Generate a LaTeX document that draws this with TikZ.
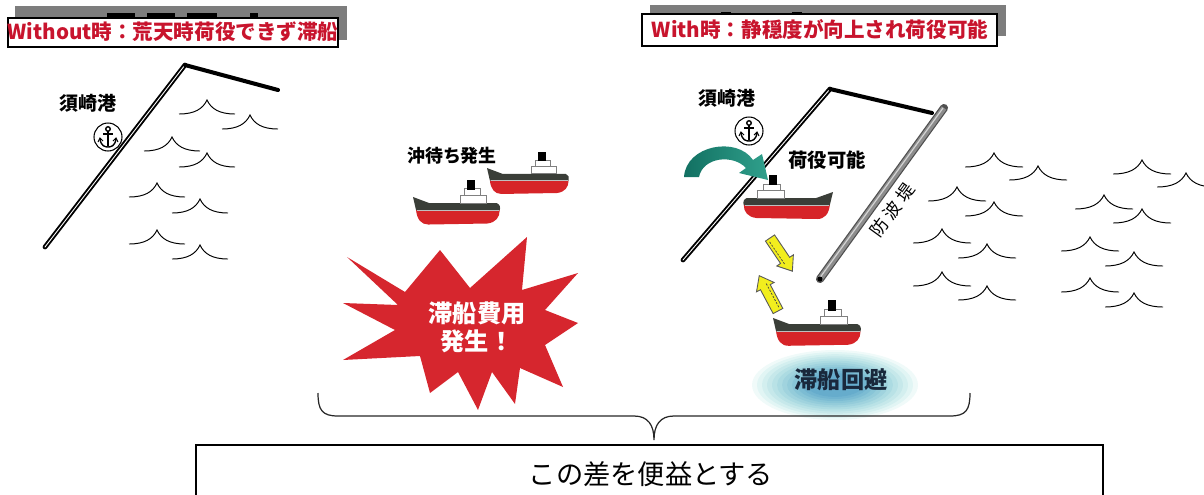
\documentclass[tikz,border=0pt]{standalone}
\usepackage{fontspec}
\setmainfont{Noto Sans CJK JP}
\usetikzlibrary{calc}

\definecolor{titlered}{RGB}{200,20,45}
\definecolor{hullred}{RGB}{214,36,40}
\definecolor{hulldark}{RGB}{58,62,56}
\definecolor{tealA}{RGB}{18,112,98}
\definecolor{tealB}{RGB}{48,160,140}
\definecolor{burst}{RGB}{214,38,46}
\definecolor{arrowyellow}{RGB}{242,238,30}
\definecolor{glowblue}{RGB}{30,120,185}
\definecolor{glowcyan}{RGB}{160,225,220}
\definecolor{navy}{RGB}{25,40,60}
\definecolor{wallgray}{RGB}{140,140,140}
\definecolor{walldark}{RGB}{80,80,80}
\definecolor{bargray}{RGB}{125,125,125}

% one wave mark: cusp at (#1,#2), half width #3
\newcommand\wavemark[3]{%
  \draw[wave] (#1-#3,#2+14) .. controls (#1-#3*0.45,#2+14) and (#1-#3*0.15,#2+9) .. (#1,#2)
    .. controls (#1+#3*0.15,#2+9) and (#1+#3*0.45,#2+14) .. (#1+#3,#2+14);}

\tikzset{
  titlebar/.style={fill=bargray},
  titlebox/.style={fill=white, draw=black, line width=0.6pt},
  titletext/.style={inner sep=0pt, text=titlered, font=\fontsize{11.7}{14}\selectfont\bfseries},
  lbl/.style={inner sep=0pt, font=\fontsize{10.8}{13}\selectfont\bfseries},
  wave/.style={line width=0.55pt, black},
  coast/.style={double=white, double distance=0.5pt, line width=1.1pt, line cap=round},
  quay/.style={line width=2.3pt, black, line cap=round},
  ship/.pic={
    \fill[hullred] (3,12) -- (85,12) .. controls (85,19) and (81,24) .. (73,25)
      -- (15,26) .. controls (8,26) and (4,21) .. (3,12) -- cycle;
    \fill[hulldark] (0,-1) -- (16,5) -- (82,5) .. controls (85,6) and (86,9) .. (85,12)
      -- (3,12) -- cycle;
    \draw[gray!50, line width=0.4pt] (4,12) -- (84,12);
    \filldraw[fill=white, draw=gray, line width=0.4pt] (46,-3) rectangle (72,5);
    \filldraw[fill=white, draw=gray, line width=0.4pt] (50,-9) rectangle (66,-3);
    \fill[black] (53,-18) rectangle (61,-8);
  },
  anchorsym/.pic={
    \draw[line width=0.6pt] (0,0) circle [radius=0.28cm];
    \draw[line width=0.8pt] (0,-8) circle [radius=0.045cm];
    \draw[line width=1pt] (0,-6) -- (0,9);
    \draw[line width=0.8pt] (-5,-3) -- (5,-3);
    \draw[line width=0.8pt] (-8,2) .. controls (-7,9) and (-3,10) .. (0,10)
      .. controls (3,10) and (7,9) .. (8,2);
    \draw[line width=0.6pt] (-10,5) -- (-8,1) -- (-5,4);
    \draw[line width=0.6pt] (10,5) -- (8,1) -- (5,4);
  },
  yarrow/.pic={
    \filldraw[fill=arrowyellow, draw=gray!70!black, line width=0.5pt]
      (0,-5.5) -- (27,-5.5) -- (27,-10) -- (40,0) -- (27,10) -- (27,5.5) -- (0,5.5) -- cycle;
    \draw[gray!50!black, line width=0.4pt, dash pattern=on 1.2pt off 0.8pt] (3,2.5) -- (30,2.5);
  }
}

\begin{document}
\begin{tikzpicture}[x=0.02cm, y=-0.02cm]
\useasboundingbox (0,0) rectangle (1204,494);

% ---- titles ----
\fill[titlebar] (15,6) rectangle (347,40);
\fill[black] (107,13) rectangle (135,17);
\fill[black] (147,13) rectangle (175,17);
\fill[black] (187,13) rectangle (217,17);
\fill[black] (250,13) rectangle (258,17);
\draw[titlebox] (8,18) rectangle (338,47);
\node[titletext] (tL) at (173,32) {Without時：荒天時荷役できず滞船};

\fill[titlebar] (650,5) rectangle (1006,36);
\fill[black] (721,12) rectangle (731,16);
\fill[black] (792,12) rectangle (802,16);
\draw[titlebox] (642,14) rectangle (997,46);
\node[titletext] (tR) at (820,30) {With時：静穏度が向上され荷役可能};

% ---- left: harbour without breakwater ----
\coordinate (cL1) at (45,247);
\coordinate (cL2) at (185,65);
\coordinate (cL3) at (278,90);
\draw[coast] (cL1) -- (cL2);
\draw[quay] (cL2) -- (cL3);
\node[lbl] (portL) at (88,103) {須崎港};
\pic at (108,137) {anchorsym};

\wavemark{207}{100}{28}
\wavemark{250}{115}{28}
\wavemark{172}{137}{28}
\wavemark{207}{153}{28}
\wavemark{157}{183}{28}
\wavemark{200}{199}{28}
\wavemark{157}{230}{28}
\wavemark{200}{245}{28}

% ---- middle: ships waiting offshore ----
\node[lbl, font=\fontsize{10.2}{12}\selectfont\bfseries] (wait) at (452,156) {沖待ち発生};
\pic[scale=0.96] at (487,169) {ship};
\pic[scale=1.02] at (413,198) {ship};

\fill[burst] (347,257) -- (405,292) -- (440,250) -- (470,288) -- (527,237) -- (522,290)
  -- (578,273) -- (545,310) -- (578,323) -- (545,345) -- (563,387) -- (520,368)
  -- (515,404) -- (492,372) -- (478,410) -- (458,372) -- (430,393) -- (420,356)
  -- (343,360) -- (395,330) -- (343,303) -- (398,305) -- cycle;
\node[inner sep=0pt, align=center, text=white, font=\fontsize{13.8}{16}\selectfont\bfseries]
  (cost) at (477,327) {滞船費用\\発生！};

% ---- right: harbour with breakwater ----
\coordinate (cR1) at (683,260);
\coordinate (cR2) at (830,89);
\coordinate (cR3) at (932,113);
\coordinate (bwT) at (944,108);
\coordinate (bwB) at (820,279);
\draw[coast] (cR1) -- (cR2);
\draw[quay] (cR2) -- (cR3);
\draw[walldark, line width=4.6pt, line cap=round] (bwT) -- (bwB);
\draw[wallgray, line width=3.2pt] (bwT) -- (bwB);
\draw[gray!35, line width=0.7pt] ($(bwT)+(-1,0)$) -- ($(bwB)+(-1,0)$);
\fill[black] (bwB) circle [radius=0.05cm];
\node[inner sep=0pt, rotate=54, font=\fontsize{10}{12}\selectfont\addfontfeatures{LetterSpace=25}]
  (bwtext) at (892,210) {防波堤};

\node[lbl] (portR) at (727,98) {須崎港};
\pic at (749,131) {anchorsym};

\pic[xscale=-1.05, yscale=1.0] at (833,193) {ship};
\shade[left color=tealA, right color=tealB]
  (684,177) .. controls (686,145) and (737,136) .. (753,160) -- (762,154) -- (768,180)
  -- (739,173) -- (746,168) .. controls (733,154) and (703,157) .. (699,177) -- cycle;
\node[lbl, font=\fontsize{11}{13}\selectfont\bfseries] (ok) at (827,160) {荷役可能};

\pic[rotate=-56] at (770,238) {yarrow};
\pic[rotate=118] at (778,311) {yarrow};
\pic[scale=1.03] at (773,319) {ship};

\foreach \k in {0,...,11} {
  \pgfmathsetmacro\rx{1.66-0.1*\k}
  \pgfmathsetmacro\ry{0.7-0.042*\k}
  \pgfmathtruncatemacro\mix{\k*8}
  \fill[glowblue!\mix!glowcyan, opacity=0.16] (835,385) ellipse [x radius=\rx cm, y radius=\ry cm];
}
\node[inner sep=0pt, text=navy, font=\fontsize{13.2}{15}\selectfont\bfseries] (avoid) at (841,380) {滞船回避};

\wavemark{994}{153}{29}
\wavemark{1038}{166}{29}
\wavemark{1142}{160}{29}
\wavemark{1186}{173}{29}
\wavemark{957}{187}{29}
\wavemark{994}{202}{29}
\wavemark{1104}{195}{29}
\wavemark{1142}{209}{29}
\wavemark{942}{229}{29}
\wavemark{987}{244}{29}
\wavemark{1090}{237}{29}
\wavemark{1134}{252}{29}
\wavemark{942}{272}{29}
\wavemark{987}{286}{29}
\wavemark{1090}{278}{29}
\wavemark{1134}{293}{29}

% ---- brace and conclusion ----
\coordinate (brL) at (318,393);
\coordinate (brM) at (654,440);
\coordinate (brR) at (970,393);
\draw[line width=0.7pt, black!85] (brL) .. controls (318,410) and (322,416) .. (338,416)
  -- (634,416) .. controls (648,416) and (654,425) .. (brM)
  .. controls (654,425) and (660,416) .. (674,416)
  -- (950,416) .. controls (966,416) and (970,410) .. (brR);
\draw[line width=0.7pt] (196,445) rectangle (1103,500);
\node[inner sep=0pt, font=\fontsize{15.5}{18}\selectfont] (gain) at (651,474) {この差を便益とする};
\end{tikzpicture}
\end{document}
